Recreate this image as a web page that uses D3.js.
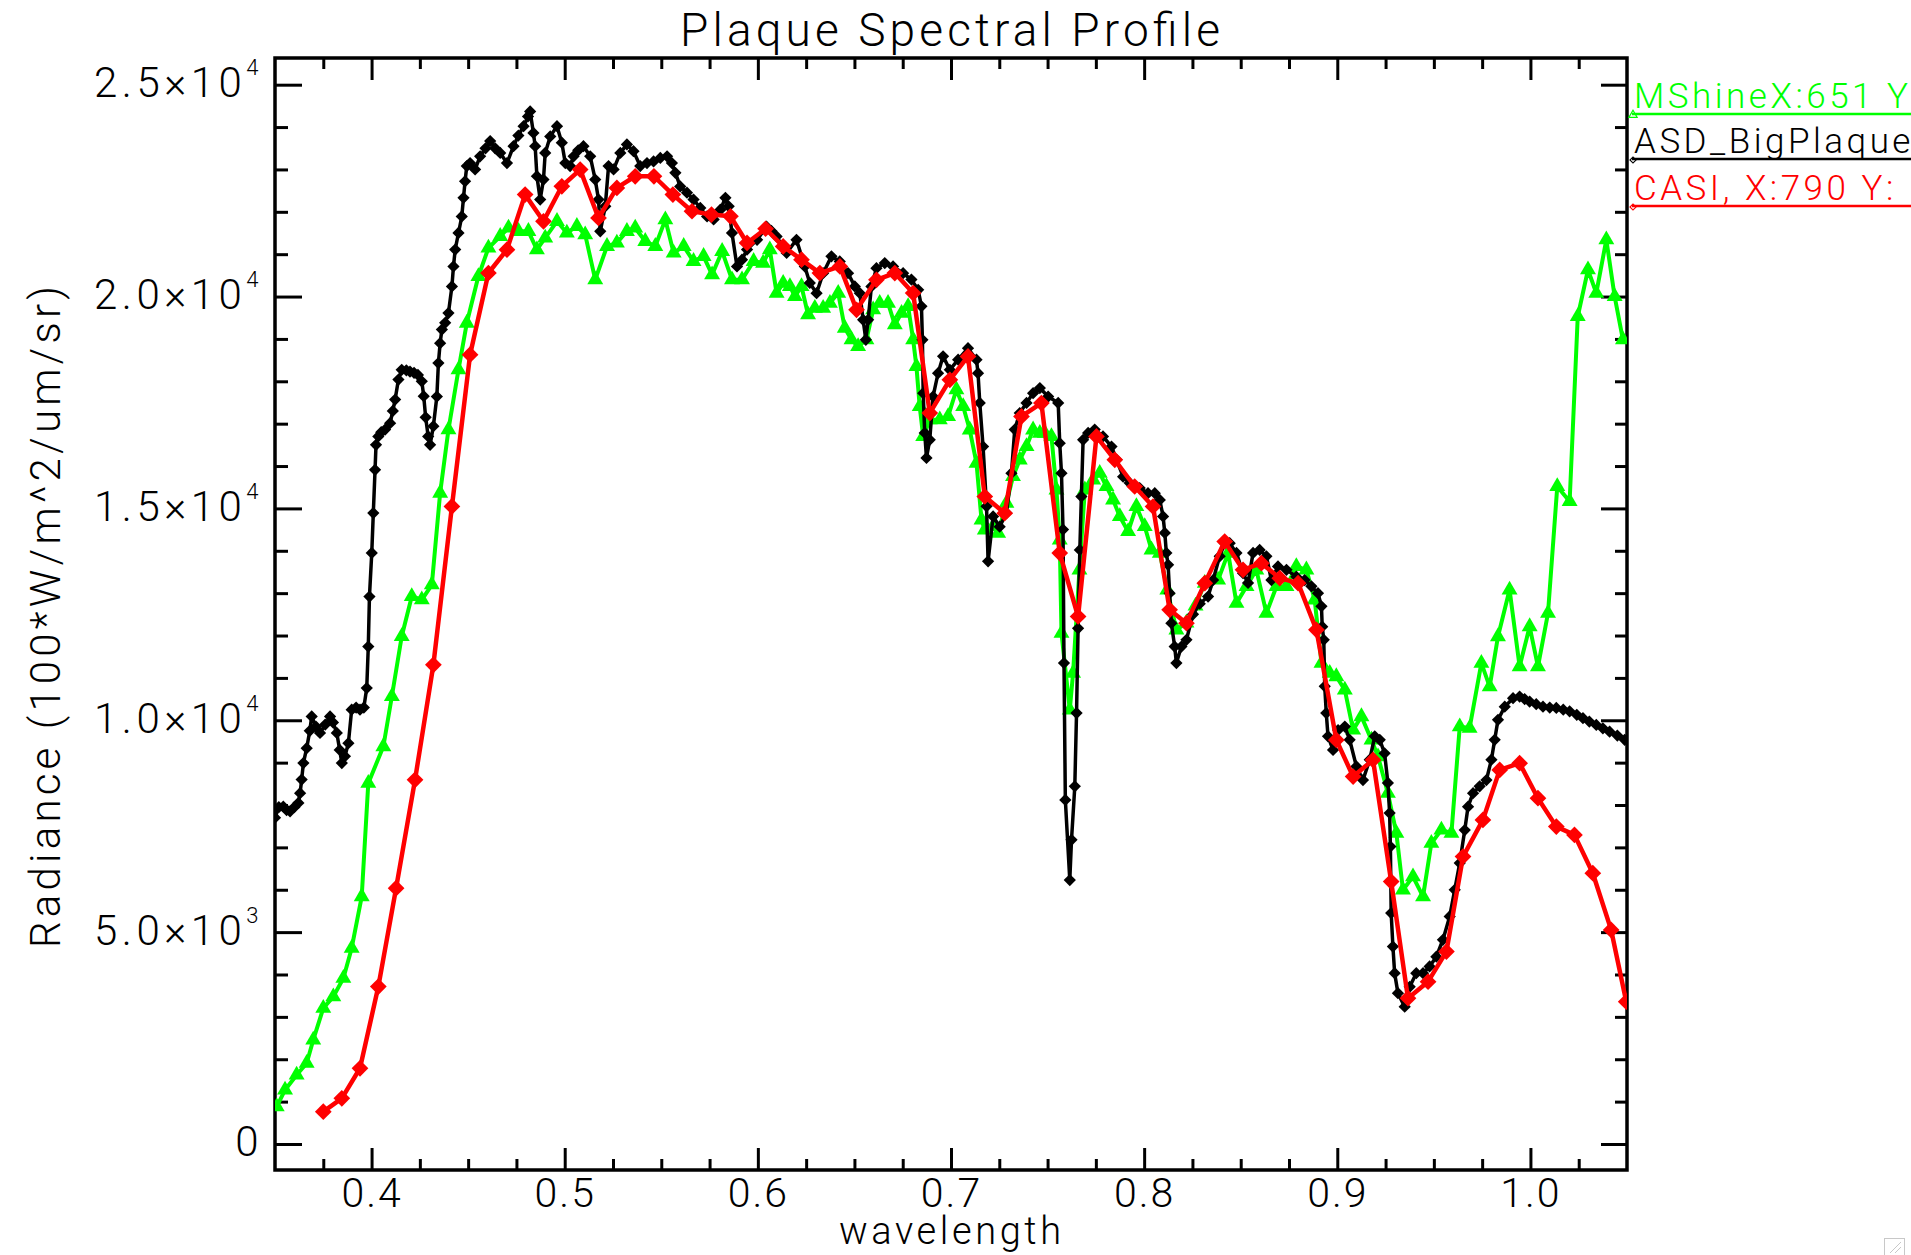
<!DOCTYPE html>
<html><head><meta charset="utf-8">
<script src="https://cdn.jsdelivr.net/npm/d3@7"></script>
<style>
html,body{margin:0;padding:0;background:#fff;overflow:hidden;}
svg{display:block;}
text{font-family:Roboto,"DejaVu Sans",sans-serif;font-weight:300;fill:#000;}
</style></head><body>
<svg id="chart" width="1911" height="1255"></svg>
<script>
// ---------------- DATA ----------------
const chartTitle = "Plaque Spectral Profile";
const xAxisTitle = "wavelength";
const yAxisTitle = "Radiance (100*W/m^2/um/sr)";
const xDomain = [0.35, 1.05];
const yDomain = [-614, 25630];
const xMajorTicks = [0.4, 0.5, 0.6, 0.7, 0.8, 0.9, 1.0];
const xTickLabels = ["0.4", "0.5", "0.6", "0.7", "0.8", "0.9", "1.0"];
const yMajorTicks = [0, 5000, 10000, 15000, 20000, 25000];
const yTickMantissa = ["0", "5.0", "1.0", "1.5", "2.0", "2.5"];
const yTickExponent = ["", "3", "4", "4", "4", "4"];
const legendLabels = ["MShineX:651 Y", "ASD_BigPlaque", "CASI, X:790 Y:"];

// ASD (black, diamonds)
const asdWavelength = [0.3500,0.3520,0.3543,0.3560,0.3578,0.3600,0.3621,0.3630,0.3638,0.3647,0.3664,0.3680,0.3690,0.3712,0.3733,0.3760,0.3785,0.3800,0.3820,0.3835,0.3846,0.3862,0.3880,0.3897,0.3920,0.3940,0.3960,0.3975,0.3983,0.3989,0.4001,0.4009,0.4018,0.4023,0.4035,0.4050,0.4070,0.4096,0.4110,0.4122,0.4139,0.4156,0.4180,0.4199,0.4220,0.4240,0.4260,0.4270,0.4280,0.4293,0.4303,0.4320,0.4338,0.4346,0.4355,0.4364,0.4381,0.4398,0.4416,0.4424,0.4433,0.4450,0.4467,0.4476,0.4484,0.4493,0.4510,0.4536,0.4562,0.4590,0.4614,0.4640,0.4666,0.4701,0.4735,0.4760,0.4787,0.4810,0.4821,0.4838,0.4847,0.4856,0.4873,0.4890,0.4899,0.4925,0.4960,0.4985,0.5003,0.5028,0.5046,0.5070,0.5097,0.5132,0.5158,0.5175,0.5184,0.5210,0.5227,0.5253,0.5288,0.5322,0.5356,0.5391,0.5426,0.5460,0.5495,0.5530,0.5555,0.5573,0.5598,0.5633,0.5667,0.5702,0.5737,0.5771,0.5806,0.5832,0.5849,0.5866,0.5892,0.5918,0.5944,0.5996,0.6045,0.6070,0.6097,0.6149,0.6200,0.6243,0.6269,0.6304,0.6338,0.6381,0.6424,0.6467,0.6502,0.6528,0.6545,0.6559,0.6571,0.6588,0.6614,0.6657,0.6700,0.6752,0.6795,0.6830,0.6847,0.6852,0.6856,0.6864,0.6873,0.6890,0.6907,0.6933,0.6959,0.6994,0.7037,0.7088,0.7132,0.7140,0.7149,0.7166,0.7184,0.7192,0.7218,0.7252,0.7287,0.7313,0.7330,0.7356,0.7391,0.7425,0.7460,0.7503,0.7555,0.7563,0.7572,0.7580,0.7585,0.7592,0.7615,0.7624,0.7641,0.7650,0.7658,0.7667,0.7675,0.7684,0.7710,0.7744,0.7787,0.7831,0.7857,0.7891,0.7925,0.7977,0.8020,0.8055,0.8081,0.8098,0.8107,0.8115,0.8124,0.8132,0.8141,0.8158,0.8167,0.8193,0.8219,0.8253,0.8288,0.8331,0.8357,0.8391,0.8417,0.8443,0.8478,0.8512,0.8538,0.8564,0.8598,0.8633,0.8659,0.8693,0.8737,0.8788,0.8831,0.8866,0.8900,0.8918,0.8922,0.8930,0.8935,0.8943,0.8952,0.8978,0.9004,0.9039,0.9064,0.9099,0.9133,0.9168,0.9194,0.9220,0.9245,0.9262,0.9271,0.9275,0.9279,0.9288,0.9297,0.9314,0.9349,0.9375,0.9409,0.9444,0.9478,0.9513,0.9547,0.9582,0.9608,0.9634,0.9660,0.9677,0.9703,0.9737,0.9772,0.9798,0.9815,0.9832,0.9867,0.9910,0.9944,0.9970,0.9996,1.0030,1.0065,1.0100,1.0134,1.0170,1.0203,1.0240,1.0272,1.0305,1.0341,1.0375,1.0410,1.0450,1.0488];
const asdRadiance = [7700,7950,7960,7880,7850,7950,8050,8280,8600,8990,9340,9750,10090,9850,9700,9900,10090,9950,9700,9300,8990,9150,9460,10250,10300,10250,10300,10760,11740,12920,13950,14890,15910,16500,16700,16800,16860,17010,17300,17570,18040,18270,18260,18230,18200,18150,18000,17650,17150,16700,16500,16940,17640,18430,18900,19220,19380,19610,20240,20710,21110,21500,21890,22330,22720,23080,23150,23000,23310,23500,23670,23500,23390,23150,23550,23800,24020,24250,24370,23860,23550,22840,22290,22760,23390,23780,24020,23630,23150,23080,23310,23450,23550,23310,22760,22290,21540,22130,23080,23000,23390,23590,23430,23080,23150,23190,23270,23310,23150,22920,22600,22450,22290,22090,21890,21820,22050,22330,22130,21500,20710,20870,21110,21340,21650,21550,21420,21030,21340,20710,20320,20080,20550,20950,20830,20550,20240,20080,19450,18980,19450,20240,20670,20790,20710,20550,20400,20160,19770,18980,17720,16780,16190,16620,17640,18190,18590,18270,18510,18780,18510,18190,17490,16460,15050,13750,14810,14570,14890,15830,16860,17250,17490,17720,17840,17640,17490,16540,15830,14500,11350,8120,6230,7180,8440,10170,12170,14020,15280,16620,16780,16860,16700,16460,16150,15750,15600,15480,15360,15360,15200,14810,14420,13950,13670,13000,12290,11740,11350,11740,11900,12500,12750,12920,13310,13870,14180,14180,13950,13470,13240,13950,14020,13870,13310,13630,13550,13390,13310,13160,13000,12690,12210,11900,10800,10170,9620,9300,9770,9850,9540,8910,8590,9070,9620,9540,9220,8520,7810,7020,5450,4660,4030,3560,3240,3710,4030,4030,4190,4420,4820,5370,6000,6630,7410,7960,8280,8440,8590,9070,9540,10010,10320,10520,10560,10500,10440,10380,10320,10300,10290,10250,10210,10130,10050,9970,9890,9810,9730,9640,9540];

// MShine (green, triangles)
const mshineWavelength = [0.3509,0.3552,0.3612,0.3664,0.3698,0.3750,0.3802,0.3854,0.3897,0.3949,0.3983,0.4061,0.4105,0.4156,0.4208,0.4260,0.4312,0.4355,0.4398,0.4450,0.4493,0.4553,0.4605,0.4666,0.4709,0.4761,0.4812,0.4856,0.4899,0.4960,0.5011,0.5063,0.5106,0.5158,0.5219,0.5270,0.5322,0.5365,0.5417,0.5469,0.5521,0.5564,0.5616,0.5667,0.5719,0.5763,0.5815,0.5866,0.5918,0.5978,0.6027,0.6062,0.6097,0.6131,0.6166,0.6192,0.6226,0.6260,0.6295,0.6338,0.6373,0.6416,0.6450,0.6485,0.6519,0.6562,0.6597,0.6631,0.6674,0.6709,0.6744,0.6778,0.6804,0.6821,0.6838,0.6856,0.6890,0.6942,0.6985,0.7028,0.7063,0.7097,0.7132,0.7158,0.7175,0.7218,0.7244,0.7287,0.7321,0.7356,0.7391,0.7425,0.7460,0.7486,0.7520,0.7546,0.7563,0.7572,0.7615,0.7632,0.7665,0.7693,0.7736,0.7770,0.7805,0.7839,0.7874,0.7917,0.7960,0.8003,0.8038,0.8081,0.8120,0.8167,0.8219,0.8266,0.8314,0.8383,0.8435,0.8478,0.8530,0.8581,0.8633,0.8685,0.8737,0.8788,0.8840,0.8883,0.8918,0.8961,0.8995,0.9039,0.9082,0.9125,0.9177,0.9211,0.9262,0.9306,0.9340,0.9392,0.9444,0.9487,0.9539,0.9591,0.9634,0.9685,0.9746,0.9789,0.9832,0.9892,0.9944,0.9996,1.0039,1.0091,1.0139,1.0203,1.0245,1.0298,1.0341,1.0393,1.0436,1.0479];
const mshineRadiance = [881,1275,1629,1905,2455,3204,3478,3912,4620,5839,8516,9380,10561,11977,12922,12844,13198,15363,16857,18274,19375,20477,21146,21422,21619,21540,21540,21107,21383,21776,21501,21658,21462,20399,21186,21265,21540,21619,21304,21186,21816,21029,21186,20832,20950,20517,21068,20399,20399,20832,20790,21105,20082,20318,20239,20003,20239,19570,19728,19728,19846,20082,19256,18980,18823,18980,19688,19846,19846,19334,19609,19767,18980,18350,17406,16698,17092,17092,17170,17800,17406,16855,16069,14731,14495,14573,14416,15124,15753,16147,16461,16855,16777,16777,16698,15439,14258,12056,10245,11111,13550,15439,15675,15833,15517,15203,14809,14455,15045,14573,14023,13945,13078,12134,12300,12700,13236,13314,13945,12764,13157,13550,12528,13157,13157,13629,13551,12843,11348,11111,11032,10718,9773,10088,9537,9143,8279,7335,5996,6310,5838,7099,7413,7335,9851,9813,11348,10795,11976,13078,11268,12212,11268,12528,15517,15163,19530,20633,20082,21341,20003,18980];

// CASI (red, diamonds)
const casiWavelength = [0.3750,0.3846,0.3940,0.4035,0.4127,0.4225,0.4320,0.4416,0.4510,0.4605,0.4701,0.4795,0.4890,0.4985,0.5080,0.5175,0.5270,0.5365,0.5462,0.5560,0.5659,0.5760,0.5858,0.5944,0.6040,0.6131,0.6226,0.6321,0.6425,0.6511,0.6614,0.6709,0.6804,0.6890,0.6994,0.7088,0.7175,0.7278,0.7365,0.7468,0.7563,0.7658,0.7753,0.7848,0.7951,0.8046,0.8132,0.8219,0.8314,0.8417,0.8512,0.8607,0.8702,0.8797,0.8892,0.8995,0.9082,0.9185,0.9279,0.9366,0.9470,0.9565,0.9651,0.9754,0.9841,0.9944,1.0039,1.0134,1.0228,1.0323,1.0418,1.0496];
const casiRadiance = [763,1078,1787,3714,6037,8594,11309,15047,18628,20556,21107,22406,21776,22603,22996,21855,22564,22839,22839,22406,22013,21934,21894,21265,21600,21183,20870,20554,20711,19688,20396,20554,20082,17249,18036,18586,15281,14888,17170,17486,13945,12449,16698,16147,15517,15045,12606,12292,13236,14219,13550,13708,13354,13236,12134,9537,8671,9065,6192,3440,3831,4540,6782,7649,8829,8986,8160,7490,7295,6390,5052,3359];

// ---------------- CHART ----------------
const svg = d3.select("#chart");
const M = {left: 275, right: 1627, top: 58, bottom: 1170};
const x = d3.scaleLinear().domain(xDomain).range([M.left, M.right]);
const y = d3.scaleLinear().domain(yDomain).range([M.bottom, M.top]);

svg.append("rect").attr("width", 1911).attr("height", 1255).attr("fill", "#fff");

svg.append("clipPath").attr("id", "plotclip").append("rect")
  .attr("x", M.left).attr("y", M.top).attr("width", M.right - M.left).attr("height", M.bottom - M.top);

const xMinorTicks = d3.range(15, 42).map(i => +(i * 0.025).toFixed(3))
  .filter(v => v > xDomain[0] && v < xDomain[1] && Math.abs(v * 10 - Math.round(v * 10)) > 1e-6);
const yMinorTicks = d3.range(1, 26).map(i => i * 1000).filter(v => v % 5000 !== 0 && v < yDomain[1]);

function styleAxis(g) {
  g.selectAll("line").attr("stroke", "#000").attr("stroke-width", 3);
  g.select(".domain").remove();
}

// bottom
const gB = svg.append("g").attr("transform", `translate(0,${M.bottom})`)
  .call(d3.axisBottom(x).tickValues(xMajorTicks).tickSizeInner(-22).tickSizeOuter(0).tickPadding(8)
    .tickFormat((d, i) => xTickLabels[i]))
  .attr("font-size", 41).attr("font-family", null);
styleAxis(gB);
gB.selectAll("text").attr("letter-spacing", 2);
svg.append("g").attr("transform", `translate(0,${M.bottom})`)
  .call(d3.axisBottom(x).tickValues(xMinorTicks).tickSizeInner(-11).tickSizeOuter(0).tickFormat(""))
  .call(styleAxis);
// top
svg.append("g").attr("transform", `translate(0,${M.top})`)
  .call(d3.axisTop(x).tickValues(xMajorTicks).tickSizeInner(-22).tickSizeOuter(0).tickFormat(""))
  .call(styleAxis);
svg.append("g").attr("transform", `translate(0,${M.top})`)
  .call(d3.axisTop(x).tickValues(xMinorTicks).tickSizeInner(-11).tickSizeOuter(0).tickFormat(""))
  .call(styleAxis);
// left
const gL = svg.append("g").attr("transform", `translate(${M.left},0)`)
  .call(d3.axisLeft(y).tickValues(yMajorTicks).tickSizeInner(-27).tickSizeOuter(0))
  .attr("font-size", 42).attr("font-family", null);
styleAxis(gL);
gL.selectAll(".tick text").each(function(d, i) {
  const t = d3.select(this);
  t.text(null).attr("x", -12).attr("dy", null).attr("y", 12).attr("letter-spacing", 4.5);
  if (yTickExponent[i] === "") {
    t.text(yTickMantissa[i]);
  } else {
    t.append("tspan").text(yTickMantissa[i] + "×10");
    t.append("tspan").attr("dy", -22).attr("font-size", 22).text(yTickExponent[i]);
  }
});
svg.append("g").attr("transform", `translate(${M.left},0)`)
  .call(d3.axisLeft(y).tickValues(yMinorTicks).tickSizeInner(-13).tickSizeOuter(0).tickFormat(""))
  .call(styleAxis);
// right
svg.append("g").attr("transform", `translate(${M.right},0)`)
  .call(d3.axisRight(y).tickValues(yMajorTicks).tickSizeInner(-26).tickSizeOuter(0).tickFormat(""))
  .call(styleAxis);
svg.append("g").attr("transform", `translate(${M.right},0)`)
  .call(d3.axisRight(y).tickValues(yMinorTicks).tickSizeInner(-12).tickSizeOuter(0).tickFormat(""))
  .call(styleAxis);

// frame
svg.append("rect").attr("x", M.left).attr("y", M.top)
  .attr("width", M.right - M.left).attr("height", M.bottom - M.top)
  .attr("fill", "none").attr("stroke", "#000").attr("stroke-width", 3.5);

// series
const plot = svg.append("g").attr("clip-path", "url(#plotclip)");
const line = d3.line().x(d => x(d[0])).y(d => y(d[1]));

function drawSeries(wl, rad, color, width, symbolType, size, rotate) {
  const pts = wl.map((w, i) => [w, rad[i]]);
  plot.append("path").datum(pts).attr("d", line)
    .attr("fill", "none").attr("stroke", color).attr("stroke-width", width).attr("stroke-linejoin", "round");
  const sym = d3.symbol().type(symbolType).size(size);
  plot.append("g").selectAll("path").data(pts).join("path")
    .attr("d", sym)
    .attr("transform", d => `translate(${x(d[0])},${y(d[1])}) rotate(${rotate})`)
    .attr("fill", color);
}
drawSeries(mshineWavelength, mshineRadiance, "#00ff00", 4, d3.symbolTriangle, 110, 0);
drawSeries(asdWavelength, asdRadiance, "#000000", 3.5, d3.symbolSquare, 75, 45);
drawSeries(casiWavelength, casiRadiance, "#ff0000", 4.5, d3.symbolSquare, 140, 45);

// titles
svg.append("text").attr("x", 950).attr("y", 46).attr("text-anchor", "middle")
  .attr("font-size", 46).attr("textLength", 540).attr("lengthAdjust", "spacing").text(chartTitle);
svg.append("text").attr("x", 950).attr("y", 1244).attr("text-anchor", "middle")
  .attr("font-size", 38).attr("textLength", 222).attr("lengthAdjust", "spacing").text(xAxisTitle);
svg.append("text").attr("transform", "translate(60,617) rotate(-90)").attr("text-anchor", "middle")
  .attr("font-size", 42).attr("textLength", 662).attr("lengthAdjust", "spacing").text(yAxisTitle);

// legend
const legendColors = ["#00ff00", "#000000", "#ff0000"];
const legendY = [114, 159, 206];
const legendSym = [d3.symbolTriangle, d3.symbolSquare, d3.symbolSquare];
const lg = svg.append("g");
legendLabels.forEach((lab, i) => {
  lg.append("line").attr("x1", 1632).attr("x2", 1911).attr("y1", legendY[i]).attr("y2", legendY[i])
    .attr("stroke", legendColors[i]).attr("stroke-width", 2.5);
  lg.append("path").attr("d", d3.symbol().type(legendSym[i]).size(i === 0 ? 30 : 18)())
    .attr("transform", `translate(1633,${legendY[i] + 1}) rotate(${i === 0 ? 0 : 45})`)
    .attr("fill", "none").attr("stroke", legendColors[i]).attr("stroke-width", 1.2);
  lg.append("text").attr("x", 1634).attr("y", legendY[i] - 6).attr("font-size", 35)
    .attr("letter-spacing", 3.5).style("fill", legendColors[i]).text(lab);
});

// small resize grip in corner
const grip = svg.append("g").attr("stroke", "#c8c8c8").attr("fill", "none").attr("stroke-width", 1);
grip.append("rect").attr("x", 1884.5).attr("y", 1238.5).attr("width", 20).attr("height", 20);
grip.append("line").attr("x1", 1890).attr("y1", 1253).attr("x2", 1901).attr("y2", 1242);
grip.append("line").attr("x1", 1895).attr("y1", 1253).attr("x2", 1901).attr("y2", 1247);
</script>
</body></html>
